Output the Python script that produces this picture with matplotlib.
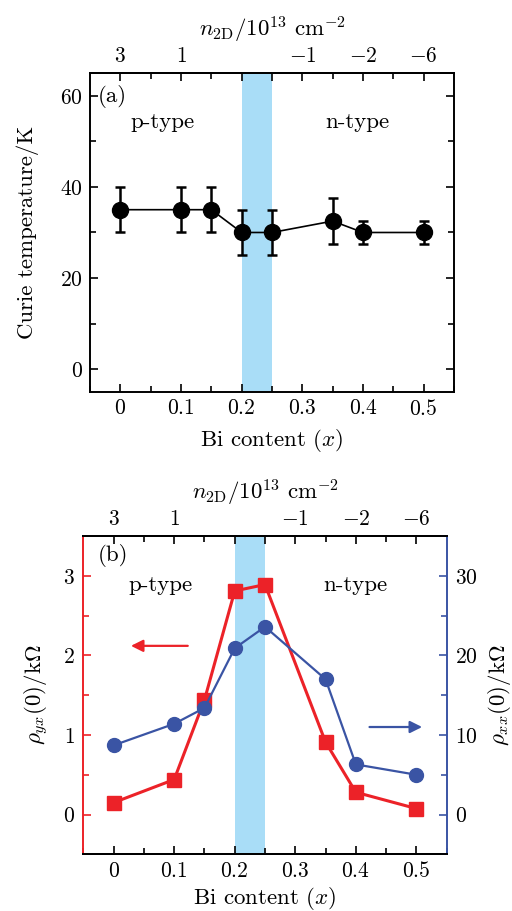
import matplotlib
matplotlib.use("Agg")
import matplotlib.pyplot as plt
from matplotlib.ticker import MultipleLocator, FixedLocator

plt.rcParams['font.family'] = 'cmr10'
plt.rcParams['mathtext.fontset'] = 'cm'
plt.rcParams['axes.formatter.use_mathtext'] = True
plt.rcParams['axes.unicode_minus'] = False

# ---- data ----
bi = [0, 0.1, 0.15, 0.2, 0.25, 0.35, 0.4, 0.5]
tc = [35, 35, 35, 30, 30, 32.5, 30, 30]
tc_err = [5, 5, 5, 5, 5, 5, 2.5, 2.5]
rho_yx = [0.15, 0.44, 1.44, 2.81, 2.89, 0.91, 0.28, 0.075]
rho_xx = [8.7, 11.4, 13.4, 20.9, 23.6, 17.0, 6.3, 5.0]
bottom_ticks = [0, 0.1, 0.2, 0.3, 0.4, 0.5]
bottom_labels = ['0', '0.1', '0.2', '0.3', '0.4', '0.5']
top_ticks = [0, 0.1, 0.2, 0.25, 0.3, 0.4, 0.5]
top_labels = ['3', '1', '', '', '-1', '-2', '-6']
span = (0.2, 0.25)

RED = '#ec2228'
BLUE = '#3a54a4'
SHADE = '#a9ddf7'
FS = 16.5    # labels
FT = 15.5    # tick labels

fig = plt.figure(figsize=(5.12, 9.11), dpi=100)

def style_x(ax, xlpad):
    ax.set_xlim(-0.05, 0.55)
    ax.set_xticks(bottom_ticks)
    ax.set_xticklabels(['$%s$' % s for s in bottom_labels])
    ax.xaxis.set_minor_locator(MultipleLocator(0.05))
    ax.tick_params(axis='x', which='both', direction='in', top=False, labelsize=FT, width=1.2, pad=5)
    ax.tick_params(axis='x', which='major', length=6)
    ax.tick_params(axis='x', which='minor', length=4)
    ax.set_xlabel('Bi content $(x)$', fontsize=FS, labelpad=xlpad)
    sec = ax.secondary_xaxis('top')
    sec.set_xticks(top_ticks)
    sec.set_xticklabels(['$%s$' % s if s else '' for s in top_labels])
    sec.xaxis.set_minor_locator(FixedLocator([0.05, 0.15, 0.35, 0.45]))
    sec.tick_params(axis='x', which='both', direction='in', labelsize=FT, width=1.2, pad=5)
    sec.tick_params(axis='x', which='major', length=6)
    sec.tick_params(axis='x', which='minor', length=4)
    sec.set_xlabel(r'$n_{\rm 2D}/10^{13}\ {\rm cm}^{-2}$', fontsize=FS, labelpad=7)
    for s in sec.spines.values():
        s.set_linewidth(1.4)
    return sec

# ---- panel (a) ----
axa = fig.add_axes([0.1758, 0.5697, 0.7109, 0.3502])
axa.axvspan(span[0], span[1], color=SHADE, lw=0, zorder=0)
axa.errorbar(bi, tc, yerr=tc_err, color='black', lw=1.2, marker='o', ms=11.5,
             elinewidth=1.8, capsize=3.5, capthick=1.8, zorder=3)
axa.set_ylim(-5, 65)
axa.set_yticks([0, 20, 40, 60])
axa.set_yticklabels(['$0$', '$20$', '$40$', '$60$'])
axa.yaxis.set_minor_locator(MultipleLocator(10))
axa.tick_params(axis='y', which='both', direction='in', right=True, labelsize=FT, width=1.2, pad=5)
axa.tick_params(axis='y', which='major', length=6)
axa.tick_params(axis='y', which='minor', length=4)
axa.set_ylabel('Curie temperature/K', fontsize=FS, labelpad=15)
for s in axa.spines.values():
    s.set_linewidth(1.4)
style_x(axa, 6)
axa.text(-0.037, 59.8, '(a)', fontsize=FS, ha='left', va='center')
axa.text(0.07, 54.2, 'p-type', fontsize=FS, ha='center', va='center')
axa.text(0.39, 54.2, 'n-type', fontsize=FS, ha='center', va='center')

# ---- panel (b) ----
axb = fig.add_axes([0.1628, 0.0622, 0.7096, 0.3494])
axb.axvspan(span[0], span[1], color=SHADE, lw=0, zorder=0)
axb.plot(bi, rho_yx, color=RED, lw=2.2, marker='s', ms=9.5, zorder=3)
axb.set_ylim(-0.5, 3.5)
axb.set_yticks([0, 1, 2, 3])
axb.set_yticklabels(['$0$', '$1$', '$2$', '$3$'])
axb.yaxis.set_minor_locator(MultipleLocator(0.5))
axb.tick_params(axis='y', which='both', direction='in', color=RED, labelsize=FT, width=1.2, pad=6)
axb.tick_params(axis='y', which='major', length=6)
axb.tick_params(axis='y', which='minor', length=4)
axb.set_ylabel(r'$\rho_{yx}(0)/{\rm k}\Omega$', fontsize=FS, labelpad=9)
for s in axb.spines.values():
    s.set_linewidth(1.4)
axb.spines['left'].set_color(RED)
axb.spines['right'].set_visible(False)
style_x(axb, 3)
axb.text(-0.027, 3.25, '(b)', fontsize=FS, ha='left', va='center')
axb.text(0.077, 2.88, 'p-type', fontsize=FS, ha='center', va='center')
axb.text(0.40, 2.88, 'n-type', fontsize=FS, ha='center', va='center')
axb.annotate('', xy=(0.024, 2.12), xytext=(0.127, 2.12),
             arrowprops=dict(arrowstyle='-|>', color=RED, lw=1.6, mutation_scale=18))

axc = axb.twinx()
axc.set_position(axb.get_position())
axc.plot(bi, rho_xx, color=BLUE, lw=1.6, marker='o', ms=10, zorder=4)
axc.set_ylim(-5, 35)
axc.set_yticks([0, 10, 20, 30])
axc.set_yticklabels(['$0$', '$10$', '$20$', '$30$'])
axc.yaxis.set_minor_locator(MultipleLocator(5))
axc.tick_params(axis='y', which='both', direction='in', color=BLUE, labelsize=FT, width=1.2, pad=6)
axc.tick_params(axis='y', which='major', length=6)
axc.tick_params(axis='y', which='minor', length=4)
axc.set_ylabel(r'$\rho_{xx}(0)/{\rm k}\Omega$', fontsize=FS, labelpad=6)
for s in axc.spines.values():
    s.set_linewidth(1.4)
axc.spines['right'].set_color(BLUE)
axc.spines['left'].set_visible(False)
axc.annotate('', xy=(0.514, 11.0), xytext=(0.418, 11.0),
             arrowprops=dict(arrowstyle='-|>', color=BLUE, lw=1.6, mutation_scale=18))

fig.savefig('out.png', dpi=100)
